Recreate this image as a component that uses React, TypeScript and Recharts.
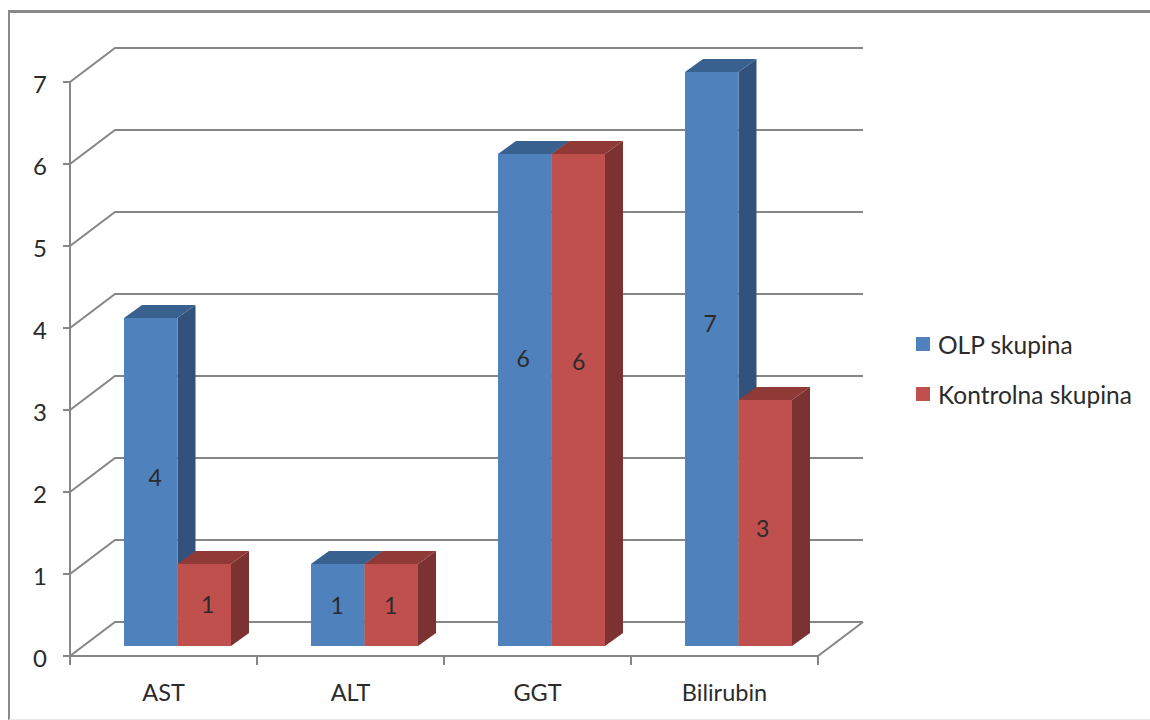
import { Bar, BarChart, CartesianGrid, LabelList, Legend, XAxis, YAxis } from "recharts";

const categories = ["AST", "ALT", "GGT", "Bilirubin"];
const olpValues = [4, 1, 6, 7];
const kontrolnaValues = [1, 1, 6, 3];
const yTicks = [0, 1, 2, 3, 4, 5, 6, 7];

// the labels sit a bit off-centre in the original
const olpLabelNudge = [[5, -5], [0, 0], [-1, -42], [-1, -36]];
const kontrolnaLabelNudge = [[4, -1], [0, 0], [1, -39], [-2, 5]];

const data = categories.map((name, i) => ({ name, olp: olpValues[i], kontrolna: kontrolnaValues[i] }));

const AXIS = "#868686";
const FONT = "Lato, 'Open Sans', sans-serif";
const TEXT = "#2b2b2b";

// wall and floor depth
const WALL_DX = 45;
const WALL_DY = -34;
const PLOT_BOTTOM = 656;
// bars stand a little way into the floor
const BAR_DX = 14;
const BAR_DY = -10;
// bar depth
const SIDE_DX = 18;
const SIDE_DY = -13;

const BLUE = { front: "#4f81bd", top: "#38618f", side: "#32527c" };
const RED = { front: "#c0504d", top: "#8f3a37", side: "#7c3230" };

function bar3d(tone: typeof BLUE) {
    return (props: any) => {
        const x = props.x + BAR_DX;
        const y = props.y + BAR_DY;
        const w = props.width;
        const h = props.height;
        return (
            <g>
                <polygon
                    points={`${x + w},${y} ${x + w + SIDE_DX},${y + SIDE_DY} ${x + w + SIDE_DX},${y + h + SIDE_DY} ${x + w},${y + h}`}
                    fill={tone.side}
                />
                <polygon
                    points={`${x},${y} ${x + SIDE_DX},${y + SIDE_DY} ${x + w + SIDE_DX},${y + SIDE_DY} ${x + w},${y}`}
                    fill={tone.top}
                />
                <rect x={x} y={y} width={w} height={h} fill={tone.front} />
            </g>
        );
    };
}

function barLabel(nudge: number[][]) {
    return (props: any) => {
        const [dx, dy] = nudge[props.index];
        return (
            <text
                x={props.x + BAR_DX + props.width / 2 + dx - 0.5}
                y={props.y + BAR_DY + props.height / 2 + dy}
                textAnchor="middle"
                dominantBaseline="central"
                fontFamily={FONT}
                fontSize={23}
                fill={TEXT}
            >
                {props.value}
            </text>
        );
    };
}

function wallLine(props: any) {
    const { x1, y1, x2, y2 } = props;
    const isFloor = Math.abs(y1 - PLOT_BOTTOM) < 1;
    return (
        <g key={props.key} stroke={AXIS} strokeWidth={2} fill="none">
            <polyline points={`${x1},${y1} ${x1 + WALL_DX},${y1 + WALL_DY} ${x2 + WALL_DX},${y2 + WALL_DY}`} />
            {isFloor && <line x1={x2} y1={y2} x2={x2 + WALL_DX} y2={y2 + WALL_DY} />}
        </g>
    );
}

// ticks go between the categories, not under them
function categoryTick(props: any) {
    const half = props.payload.offset;
    return (
        <g>
            {props.index === 0 && (
                <line x1={props.x - half} y1={PLOT_BOTTOM} x2={props.x - half} y2={PLOT_BOTTOM + 9} stroke={AXIS} strokeWidth={2} />
            )}
            <line x1={props.x + half} y1={PLOT_BOTTOM} x2={props.x + half} y2={PLOT_BOTTOM + 9} stroke={AXIS} strokeWidth={2} />
            <text x={props.x} y={PLOT_BOTTOM + 45} textAnchor="middle" fontFamily={FONT} fontSize={23.5} fill={TEXT}>
                {props.payload.value}
            </text>
        </g>
    );
}

function valueTick(props: any) {
    return (
        <text x={props.x} y={props.y + 11} textAnchor="end" fontFamily={FONT} fontSize={24} fill={TEXT}>
            {props.payload.value}
        </text>
    );
}

function legendContent(props: any) {
    return (
        <div style={{ fontFamily: FONT, fontSize: 24.5, color: TEXT }}>
            {props.payload.map((item: any) => (
                <div key={item.value} style={{ display: "flex", alignItems: "center", height: 50 }}>
                    <span style={{ width: 14, height: 14, background: item.color, marginRight: 8 }} />
                    <span>{item.value}</span>
                </div>
            ))}
        </div>
    );
}

export default function App() {
    return (
        <div style={{ position: "absolute", left: 0, top: 0, width: 1150, height: 720, background: "#fff", overflow: "hidden" }}>
            <div
                style={{
                    position: "absolute",
                    left: 8,
                    top: 10,
                    width: 1142,
                    height: 706,
                    borderTop: "3px solid #8a8a8a",
                    borderLeft: "2px solid #8a8a8a",
                    borderBottom: "1px solid #e8e8e8",
                }}
            />
            <BarChart
                width={1150}
                height={720}
                data={data}
                barGap={0}
                barSize={53.5}
                margin={{ top: 82, right: 102, bottom: 24, left: 10 }}
                style={{ position: "absolute", left: 0, top: 0 }}
            >
                <CartesianGrid horizontal={wallLine} vertical={false} />
                <XAxis
                    dataKey="name"
                    height={40}
                    stroke={AXIS}
                    strokeWidth={2}
                    tickLine={false}
                    tick={categoryTick}
                />
                <YAxis
                    width={60}
                    domain={[0, 7]}
                    ticks={yTicks}
                    interval={0}
                    stroke={AXIS}
                    strokeWidth={2}
                    tickSize={7}
                    tickMargin={16}
                    tick={valueTick}
                />
                <Legend
                    layout="vertical"
                    align="right"
                    verticalAlign="middle"
                    width={230}
                    itemSorter={null}
                    content={legendContent}
                    wrapperStyle={{ left: 916, top: 319, width: 230, bottom: "auto", right: "auto" }}
                />
                <Bar dataKey="olp" name="OLP skupina" fill={BLUE.front} shape={bar3d(BLUE)} isAnimationActive={false}>
                    <LabelList dataKey="olp" content={barLabel(olpLabelNudge)} />
                </Bar>
                <Bar dataKey="kontrolna" name="Kontrolna skupina" fill={RED.front} shape={bar3d(RED)} isAnimationActive={false}>
                    <LabelList dataKey="kontrolna" content={barLabel(kontrolnaLabelNudge)} />
                </Bar>
            </BarChart>
        </div>
    );
}
